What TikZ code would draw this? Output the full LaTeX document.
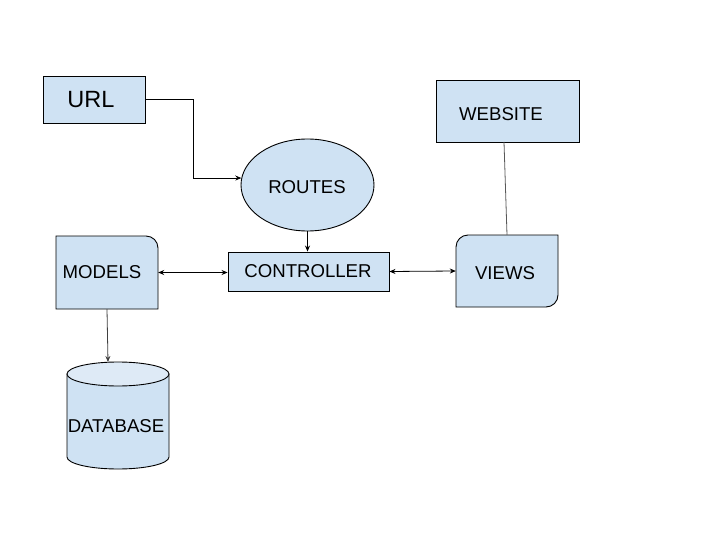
\documentclass[tikz,border=0pt]{standalone}
\usepackage{fontspec}
\setmainfont{Liberation Sans}
\usetikzlibrary{shapes.geometric,arrows.meta}
\definecolor{boxblue}{HTML}{CFE2F3}
\definecolor{capblue}{HTML}{DEEAF6}
\begin{document}
\begin{tikzpicture}[x=1pt,y=-1pt,
  lbl/.style={font=\fontsize{18.6}{20}\selectfont,text=black,inner sep=0pt},
  box/.style={draw=black,fill=boxblue,line width=0.9pt,inner sep=0pt,lbl},
  shapeline/.style={draw=black,fill=boxblue,line width=0.9pt},
  ghost/.style={draw=none,fill=none,inner sep=0pt},
  conn/.style={line width=0.8pt,draw=black,-{Stealth[length=6pt,width=5pt]}},
  biconn/.style={line width=0.8pt,draw=black,{Stealth[length=6pt,width=5pt]}-{Stealth[length=6pt,width=5pt]}},
  plain/.style={line width=0.8pt,draw=black!65}]
\fill[white] (0,0) rectangle (720,540);
\useasboundingbox (0,0) rectangle (720,540);

% simple boxes
\node[box,minimum width=102pt,minimum height=47pt] (url) at (94,99.5) {};
\node[lbl,font=\fontsize{23.5}{26}\selectfont] (urltext) at (91,99.5) {URL};
\node[box,ellipse,minimum width=133pt,minimum height=92pt] (routes) at (307.5,185) {};
\node[lbl] (routestext) at (307,187) {ROUTES};
\node[box,minimum width=161pt,minimum height=39pt] (ctrl) at (308.5,271.5) {};
\node[lbl] (ctrltext) at (308,271) {CONTROLLER};
\node[box,minimum width=143pt,minimum height=62pt] (web) at (507.5,111) {};
\node[lbl] (webtext) at (501,114) {WEBSITE};

% MODELS (rounded top-right corner)
\path[shapeline] (56,309) -- (56,236) -- (146,236)
  .. controls (152.6,236) and (158,241.4) .. (158,248) -- (158,309) -- cycle;
\node[ghost,minimum width=102pt,minimum height=73pt] (models) at (107,272.5) {};
\node[lbl] (modelstext) at (102,272.5) {MODELS};

% VIEWS (rounded top-left and bottom-right corners)
\path[shapeline] (456,247) .. controls (456,240.4) and (461.4,235) .. (468,235)
  -- (558,235) -- (558,295) .. controls (558,301.6) and (552.6,307) .. (546,307)
  -- (456,307) -- cycle;
\node[ghost,minimum width=102pt,minimum height=72pt] (views) at (507,271) {};
\node[lbl] (viewstext) at (505,273) {VIEWS};

% DATABASE cylinder
\path[shapeline] (67,374) -- (67,457)
  .. controls (67,463.63) and (89.83,469) .. (118,469)
  .. controls (146.17,469) and (169,463.63) .. (169,457)
  -- (169,374) -- cycle;
\path[draw=black,fill=capblue,line width=0.9pt] (118,374) ellipse [x radius=51, y radius=12];
\coordinate (dbtop) at (108,362);
\node[lbl] (dbtext) at (116,426) {DATABASE};

% connectors
\draw[conn] (url.east) -- ++(48,0) |- (routes.174);
\draw[conn] (routes.south) -- (routes.south |- ctrl.north);
\draw[biconn] (models.east) -- (models.east -| ctrl.west);
\draw[biconn] (ctrl.east) -- (views.west);
\draw[plain] (504,142) coordinate (webbot) -- (views.north);
\draw[conn,draw=black!75] (models.south) -- (dbtop);
\end{tikzpicture}
\end{document}
